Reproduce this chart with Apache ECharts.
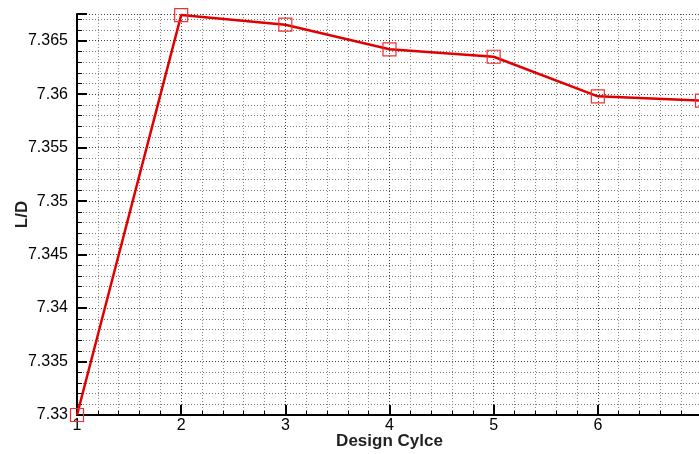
<!DOCTYPE html>
<html>
<head>
<meta charset="utf-8">
<script src="https://cdn.jsdelivr.net/npm/echarts@6/dist/echarts.min.js"></script>
<style>html,body{margin:0;padding:0;background:#fff;}#c{width:699px;height:454px;}</style>
</head>
<body>
<div id="c"></div>
<script>
const cycles = [1, 2, 3, 4, 5, 6, 7];
const liftToDrag = [7.3300, 7.3674, 7.3665, 7.3642, 7.3635, 7.3598, 7.3594];
const xName = 'Design Cylce';
const yName = 'L/D';

const chart = echarts.init(document.getElementById('c'));
const font = 'Liberation Sans, Arial, sans-serif';
chart.setOption({
  animation: false,
  grid: { left: 77, top: 14, width: 625, bottom: 39, containLabel: false, outerBoundsMode: 'none' },
  xAxis: {
    type: 'value', min: 1, max: 7, interval: 1,
    name: xName, nameLocation: 'middle', nameGap: 18, nameMoveOverlap: false,
    nameTextStyle: { fontFamily: font, fontWeight: 'bold', fontSize: 17, color: '#222' },
    axisLine: { show: true, onZero: false, lineStyle: { color: '#000', width: 2 } },
    axisTick: { show: true, inside: true, length: 10, lineStyle: { color: '#000', width: 2 } },
    minorTick: { show: true, splitNumber: 5, length: 4, lineStyle: { color: '#000', width: 1 } },
    axisLabel: { fontFamily: font, fontSize: 16, color: '#000', margin: 3, showMaxLabel: false },
    splitLine: { show: true, lineStyle: { color: '#444', type: [1, 2], width: 1 } },
    minorSplitLine: { show: true, lineStyle: { color: '#888', type: [1, 2], width: 1 } }
  },
  yAxis: {
    type: 'value', min: 7.33, max: 7.3675, interval: 0.005,
    name: yName, nameLocation: 'middle', nameGap: 46, nameRotate: 90, nameMoveOverlap: false,
    nameTextStyle: { fontFamily: font, fontWeight: 'bold', fontSize: 17, color: '#222' },
    axisLine: { show: true, onZero: false, lineStyle: { color: '#000', width: 2 } },
    axisTick: { show: true, inside: true, length: 10, lineStyle: { color: '#000', width: 2 } },
    minorTick: { show: true, splitNumber: 5, length: 5, lineStyle: { color: '#000', width: 1 } },
    axisLabel: { fontFamily: font, fontSize: 16, color: '#000', margin: 9, showMaxLabel: false,
      formatter: v => String(parseFloat(v.toFixed(4))) },
    splitLine: { show: true, lineStyle: { color: '#444', type: [1, 2], width: 1 } },
    minorSplitLine: { show: true, lineStyle: { color: '#777', type: [1, 2], width: 1 } }
  },
  series: [{
    type: 'line',
    data: cycles.map((c, i) => [c, liftToDrag[i]]),
    lineStyle: { color: '#e00000', width: 2.5 },
    symbol: 'rect', symbolSize: 13, showSymbol: true,
    itemStyle: { color: 'rgba(0,0,0,0)', borderColor: '#f03030', borderWidth: 1.2 },
    clip: false
  }]
});
</script>
</body>
</html>
